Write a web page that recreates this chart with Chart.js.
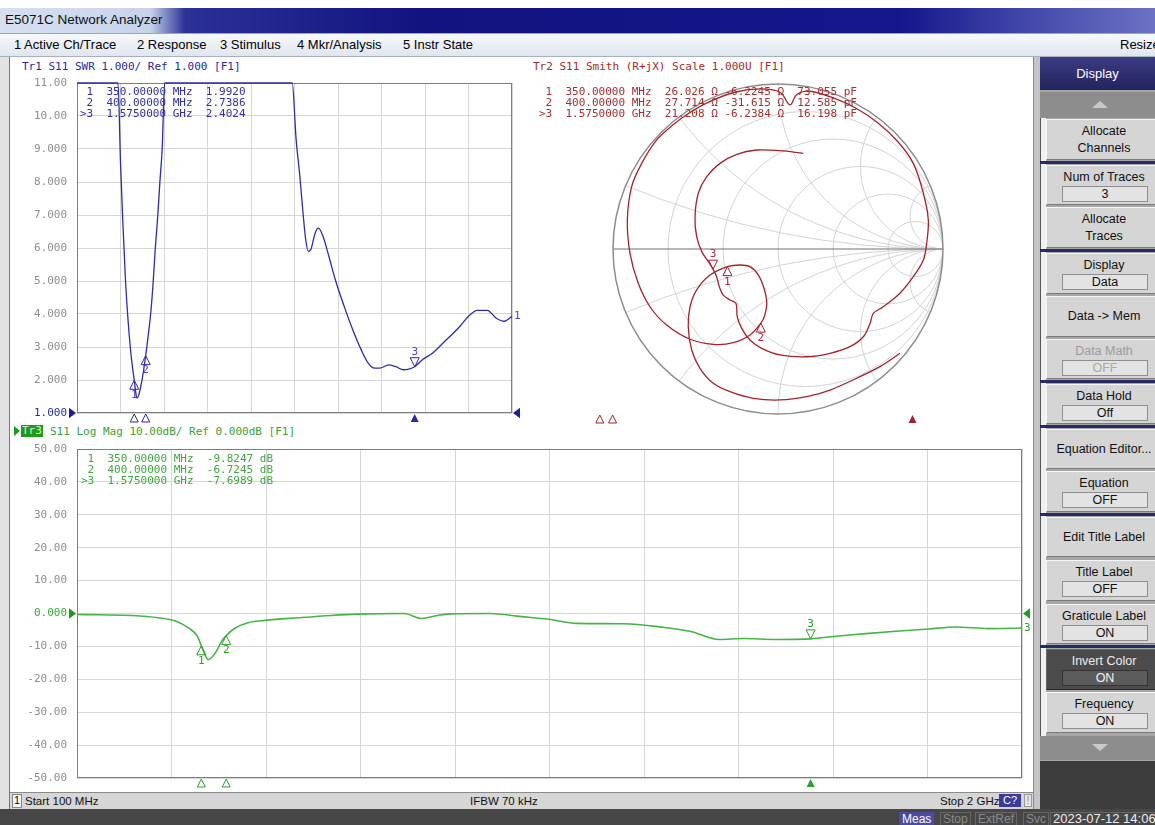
<!DOCTYPE html>
<html>
<head>
<meta charset="utf-8">
<title>E5071C Network Analyzer</title>
<script src="https://cdn.jsdelivr.net/npm/chart.js@4.4.1/dist/chart.umd.min.js"></script>
<style>
  html, body { margin: 0; padding: 0; }
  body { width: 1155px; height: 825px; overflow: hidden; position: relative; background: #fff; font-family: "Liberation Sans", Arial, sans-serif; }
  .a { position: absolute; white-space: nowrap; }
  .mono { position: absolute; font-family: "DejaVu Sans Mono", monospace; font-size: 11px; line-height: 11px; white-space: pre; }
  canvas { position: absolute; }
  .key { position: absolute; left: 1046px; width: 115px; background: #d5d5d5; border-top: 1px solid #f6f6f6; border-left: 1px solid #f6f6f6; border-bottom: 1px solid #7a7a7a; box-sizing: border-box; text-align: center; font-size: 12.5px; color: #111; }
  .key .val { position: absolute; left: 15px; width: 86px; height: 16px; background: #e3e3e3; border: 1px solid #8e8e8e; box-sizing: border-box; line-height: 14px; }
  .stat { position: absolute; font-size: 11.5px; color: #111; top: 795px; }
  .sbox { position: absolute; top: 812px; height: 12px; border: 1px solid #666; font-size: 12px; line-height: 12px; padding: 0 2px; color: #8a8a8a; }
</style>
</head>
<body>
<!-- window title and menu -->
<div class="a" style="left:0;top:8px;width:1155px;height:25px;background:linear-gradient(to right,#d6e0f0 0,#c8d3ea 150px,#2c3196 185px,#12137f 420px,#14168a 900px,#3d42a6 1010px,#6d72c4 1155px);"></div>
<div class="a" style="left:5px;top:12px;font-size:13.5px;color:#111;">E5071C Network Analyzer</div>
<div class="a" style="left:0;top:33px;width:1155px;height:22px;background:linear-gradient(#f7f9fc,#e0e6ef);border-top:1px solid #9aa6bd;border-bottom:1px solid #a9b1c0;"></div>
<div class="a" style="left:14px;top:37px;font-size:13px;">1 Active Ch/Trace</div>
<div class="a" style="left:137px;top:37px;font-size:13px;">2 Response</div>
<div class="a" style="left:220px;top:37px;font-size:13px;">3 Stimulus</div>
<div class="a" style="left:297px;top:37px;font-size:13px;">4 Mkr/Analysis</div>
<div class="a" style="left:403px;top:37px;font-size:13px;">5 Instr State</div>
<div class="a" style="left:1120px;top:37px;font-size:13px;">Resize</div>

<!-- display frame -->
<div class="a" style="left:0;top:57px;width:9px;height:752px;background:#e2e2e2;border-right:1px solid #777;"></div>
<div class="a" style="left:1033px;top:57px;width:6px;height:752px;background:#c4c4c4;border-left:1px solid #888;border-right:1px solid #555;"></div>

<canvas id="swr" width="530" height="350" style="left:0;top:74px;"></canvas>
<canvas id="smith" width="500" height="355" style="left:530px;top:74px;"></canvas>
<canvas id="lm" width="1032" height="350" style="left:0;top:440px;"></canvas>

<!-- trace titles and marker readouts (on top of the graticules) -->
<div class="mono" style="left:22px;top:61px;color:#2a2a9c;">Tr1 S11 SWR 1.000/ Ref 1.000 [F1]</div>
<div class="mono" style="left:533px;top:61px;color:#a42a2a;">Tr2 S11 Smith (R+jX) Scale 1.000U [F1]</div>
<div class="a" style="left:14px;top:426px;width:0;height:0;border-top:5px solid transparent;border-bottom:5px solid transparent;border-left:6px solid #1a9a1a;"></div>
<div class="mono" style="left:21px;top:425px;height:12px;padding:0 1px;background:#1f9a1f;color:#c8f5c8;line-height:12px;">Tr3</div>
<div class="mono" style="left:50px;top:426px;color:#3a9f3a;">S11 Log Mag 10.00dB/ Ref 0.000dB [F1]</div>
<div class="mono" id="swrRead" style="left:80px;top:86px;color:#3030a4;"></div>
<div class="mono" id="smithRead" style="left:539px;top:86px;color:#a43030;"></div>
<div class="mono" id="lmRead" style="left:81px;top:453px;color:#40a840;"></div>

<!-- status line -->
<div class="a" style="left:10px;top:792px;width:1023px;height:16px;background:#d6d6d6;border-top:1px solid #8a8a8a;"></div>
<div class="a" style="left:12px;top:794px;width:8px;height:12px;background:#f2f2f2;border:1px solid #888;font-size:10px;line-height:12px;text-align:center;">1</div>
<div class="stat" style="left:25px;">Start 100 MHz</div>
<div class="stat" style="left:470px;">IFBW 70 kHz</div>
<div class="stat" style="left:940px;">Stop 2 GHz</div>
<div class="a" style="left:999px;top:794px;width:22px;height:13px;background:#3b3b9c;color:#fff;font-size:11px;line-height:13px;text-align:center;">C?</div>
<div class="a" style="left:1024px;top:794px;width:8px;height:13px;background:#e4e4e4;border:1px solid #999;box-sizing:border-box;color:#999;font-size:11px;line-height:11px;text-align:center;">!</div>
<div class="a" style="left:0;top:809px;width:1155px;height:16px;background:#474747;"></div>
<div class="sbox" style="left:899px;background:#4b4ba0;color:#fff;border-color:#4b4ba0;">Meas</div>
<div class="sbox" style="left:940px;">Stop</div>
<div class="sbox" style="left:975px;">ExtRef</div>
<div class="sbox" style="left:1023px;">Svc</div>
<div class="sbox" style="left:1050px;width:104px;color:#eee;font-size:13px;">2023-07-12 14:06</div>

<!-- softkey panel -->
<div class="a" style="left:1040px;top:57px;width:115px;height:752px;background:#a6a6a6;"></div>
<div class="a" style="left:1040px;top:57px;width:115px;height:33px;background:linear-gradient(#3b3b82,#23235e);color:#fff;font-size:13px;line-height:33px;text-align:center;">Display</div>
<div class="a" style="left:1040px;top:92px;width:115px;height:26px;background:#8d8d8d;"></div>
<div class="a" style="left:1092px;top:101px;width:0;height:0;border-left:8px solid transparent;border-right:8px solid transparent;border-bottom:7px solid #c9c9c9;"></div>
<div class="a" style="left:1040px;top:118px;width:5px;height:618px;background:#f0f0f0;border-left:1px solid #555;"></div>
<div id="seps"></div>
<div id="keys"></div>
<div class="a" style="left:1040px;top:736px;width:115px;height:24px;background:#8d8d8d;"></div>
<div class="a" style="left:1092px;top:744px;width:0;height:0;border-left:8px solid transparent;border-right:8px solid transparent;border-top:7px solid #c9c9c9;"></div>
<div class="a" style="left:1040px;top:761px;width:115px;height:48px;background:#3c3c3c;"></div>

<script>
const freqGrid = [100, 290, 480, 670, 860, 1050, 1240, 1430, 1620, 1810, 2000]; // MHz, 10 divisions
const swrTicks = [1, 2, 3, 4, 5, 6, 7, 8, 9, 10, 11];
const lmTicks = [-50, -40, -30, -20, -10, 0, 10, 20, 30, 40, 50];

// Tr1 SWR (values above 11 run off the top of the graticule)
const swrFreq = [100, 160, 220, 260, 279, 290, 300, 312, 322, 334, 343, 350, 356, 362, 370, 380, 390, 400, 412, 423,
  433, 441, 453, 462, 472, 483, 520, 700, 900, 1000, 1040, 1057, 1073, 1088, 1099, 1110, 1121, 1140, 1155, 1177,
  1200, 1230, 1267, 1304, 1341, 1371, 1400, 1422, 1461, 1490, 1527, 1549, 1575, 1610, 1654, 1699, 1773, 1810, 1848,
  1892, 1930, 1967, 2000];
const swrVal = [71, 58, 30, 16, 11.0, 8.6, 6.8, 5.0, 3.9, 2.9, 2.35, 1.992, 1.65, 1.45, 1.55, 1.85, 2.25, 2.7386, 3.4, 4.1,
  5.0, 5.9, 7.0, 8.0, 9.0, 11.0, 16, 40, 60, 27, 11.0, 9.3, 8.2, 7.0, 6.25, 5.9, 5.95, 6.45, 6.6, 6.3,
  5.75, 5.0, 4.23, 3.53, 2.92, 2.52, 2.36, 2.36, 2.46, 2.41, 2.31, 2.33, 2.4024, 2.62, 2.82, 3.12, 3.63, 3.93, 4.11,
  4.11, 3.88, 3.78, 3.93];

// Tr3 log magnitude, dB
const lmFreq = [100, 144, 211, 264, 298, 324, 342, 350, 364, 378, 391, 400, 418, 444, 478, 545, 611, 665, 758, 792,
  825, 852, 932, 985, 1052, 1105, 1199, 1279, 1332, 1392, 1439, 1506, 1575, 1626, 1680, 1746, 1813, 1866, 1933, 2000];
const lmVal = [-0.3, -0.4, -0.6, -1.3, -2.3, -4.4, -6.9, -9.8247, -14.0, -12.0, -8.4, -6.7245, -4.4, -2.8, -2.1, -1.3, -0.6, -0.2, 0.0, -1.5,
  -0.6, -0.1, 0.0, -0.8, -1.8, -3.0, -3.1, -4.2, -5.4, -7.9, -7.6, -7.9, -7.6989, -6.9, -6.2, -5.4, -4.7, -4.1, -4.6, -4.4];

// Tr2 Smith trace, reflection coefficient (real, imag) in sweep order
const smithRe = [0.739, 0.618, 0.517, 0.315, 0.174, 0.012, -0.150, -0.291, -0.392, -0.473, -0.523, -0.544, -0.533, -0.493,
  -0.412, -0.307, -0.230, -0.170, -0.119, -0.085, -0.068, -0.083, -0.104, -0.170, -0.271, -0.392, -0.533, -0.675,
  -0.776, -0.847, -0.897, -0.913, -0.887, -0.826, -0.735, -0.630, -0.541, -0.417, -0.262, -0.108, 0.012, 0.073,
  0.113, 0.189, 0.332, 0.473, 0.606, 0.727, 0.820, 0.881, 0.911, 0.901, 0.881, 0.820, 0.739, 0.638, 0.578, 0.558,
  0.517, 0.436, 0.315, 0.174, 0.012, -0.099, -0.170, -0.220, -0.247, -0.255, -0.291, -0.332, -0.356, -0.372,
  -0.394, -0.422, -0.462, -0.493, -0.503, -0.483, -0.432, -0.352, -0.250, -0.129, 0.012, 0.153];
const smithIm = [-0.632, -0.713, -0.764, -0.855, -0.895, -0.915, -0.905, -0.865, -0.814, -0.723, -0.612, -0.471, -0.350, -0.248,
  -0.158, -0.107, -0.097, -0.107, -0.158, -0.238, -0.329, -0.410, -0.449, -0.521, -0.568, -0.578, -0.547, -0.461,
  -0.350, -0.208, -0.026, 0.176, 0.378, 0.519, 0.661, 0.757, 0.823, 0.892, 0.950, 0.970, 0.950, 0.873,
  0.935, 0.956, 0.917, 0.853, 0.764, 0.650, 0.519, 0.338, 0.176, 0.035, -0.067, -0.168, -0.268, -0.350, -0.390, -0.450,
  -0.532, -0.592, -0.632, -0.653, -0.642, -0.602, -0.552, -0.481, -0.410, -0.329, -0.309, -0.279, -0.228, -0.168,
  -0.122, -0.077, -0.016, 0.075, 0.196, 0.338, 0.438, 0.519, 0.574, 0.600, 0.596, 0.580];
const smithRGrid = [0.2, 0.5, 1, 2, 5];
const smithXGrid = [0.2, 0.5, 1, 2, 5];

// markers (from the readouts)
const mkFreq = [350, 400, 1575];
const mkSwr = [1.992, 2.7386, 2.4024];
const mkLm = [-9.8247, -6.7245, -7.6989];
const mkR = [26.026, 27.714, 21.208];
const mkX = [-6.2245, -31.615, -6.2384];
const mkCap = [73.055, 12.585, 16.198];
const activeMk = 2;
const Z0 = 50;

// ---- readouts ----
const fmtFreq = f => f < 1000 ? f.toFixed(5) + ' MHz' : (f / 1000).toFixed(7) + ' GHz';
const tag = i => (i === activeMk ? '>' : ' ') + (i + 1);
document.getElementById('swrRead').textContent =
  mkFreq.map((f, i) => `${tag(i)}  ${fmtFreq(f)}  ${mkSwr[i].toPrecision(5)}`).join('\n');
document.getElementById('smithRead').textContent =
  mkFreq.map((f, i) => `${tag(i)}  ${fmtFreq(f)}  ${mkR[i].toPrecision(5)} Ω ${mkX[i].toPrecision(5)} Ω  ${mkCap[i].toPrecision(5)} pF`).join('\n');
document.getElementById('lmRead').textContent =
  mkFreq.map((f, i) => `${tag(i)}  ${fmtFreq(f)}  ${mkLm[i].toPrecision(5)} dB`).join('\n');

// ---- softkeys ----
const keys = [
  [119, 41, ['Allocate', 'Channels']], [165, 40, ['Num of Traces'], '3'], [207, 41, ['Allocate', 'Traces']],
  [253, 41, ['Display'], 'Data'], [296, 41, ['Data -> Mem']], [339, 40, ['Data Math'], 'OFF', 'dim'],
  [384, 40, ['Data Hold'], 'Off'], [429, 40, ['Equation Editor...']], [471, 41, ['Equation'], 'OFF'],
  [517, 40, ['Edit Title Label']], [560, 41, ['Title Label'], 'OFF'], [604, 40, ['Graticule Label'], 'ON'],
  [649, 41, ['Invert Color'], 'ON', 'dark'], [692, 41, ['Frequency'], 'ON']
];
const seps = [161, 249, 380, 425, 513, 645];
document.getElementById('seps').innerHTML = seps.map(t =>
  `<div class="a" style="left:1040px;top:${t}px;width:115px;height:3px;background:#2a2a62;"></div>`).join('');
document.getElementById('keys').innerHTML = keys.map(([t, h, lines, val, kind]) => {
  let st = `top:${t}px;height:${h}px;`;
  let vst = '';
  if (kind === 'dim') { st += 'color:#9c9c9c;'; vst = 'color:#a8a8a8;'; }
  if (kind === 'dark') { st += 'background:#4b4b4b;color:#ececec;border-top-color:#6a6a6a;border-left-color:#6a6a6a;border-bottom-color:#2a2a2a;'; vst = 'background:#5c5c5c;border-color:#333;color:#f2f2f2;'; }
  let inner;
  if (val !== undefined) inner = `<div style="line-height:16px;padding-top:3px;">${lines[0]}</div><div class="val" style="top:20px;${vst}">${val}</div>`;
  else if (lines.length === 2) inner = `<div style="line-height:17px;padding-top:3px;">${lines[0]}<br>${lines[1]}</div>`;
  else inner = `<div style="line-height:${h - 2}px;">${lines[0]}</div>`;
  return `<div class="key" style="${st}">${inner}</div>`;
}).join('');

// ---- drawing helpers ----
function tri(ctx, x, y, dir, fill, s) {
  ctx.beginPath();
  if (dir === 'up') { ctx.moveTo(x, y); ctx.lineTo(x - s / 2, y + s); ctx.lineTo(x + s / 2, y + s); }
  else if (dir === 'down') { ctx.moveTo(x, y); ctx.lineTo(x - s / 2, y - s); ctx.lineTo(x + s / 2, y - s); }
  else if (dir === 'right') { ctx.moveTo(x, y); ctx.lineTo(x - s, y - s * 0.75); ctx.lineTo(x - s, y + s * 0.75); }
  else { ctx.moveTo(x, y); ctx.lineTo(x + s, y - s * 0.75); ctx.lineTo(x + s, y + s * 0.75); }
  ctx.closePath();
  if (fill) ctx.fill(); else ctx.stroke();
}

function drawSmithGrid(chart) {
  const ctx = chart.ctx, xs = chart.scales.x, ys = chart.scales.y;
  const cx = xs.getPixelForValue(0), cy = ys.getPixelForValue(0);
  const R = xs.getPixelForValue(1) - cx;
  ctx.save();
  ctx.beginPath(); ctx.arc(cx, cy, R, 0, 2 * Math.PI); ctx.clip();
  ctx.strokeStyle = '#d3d3d3'; ctx.lineWidth = 1;
  smithRGrid.forEach(r => {
    ctx.beginPath(); ctx.arc(xs.getPixelForValue(r / (1 + r)), cy, R / (1 + r), 0, 2 * Math.PI); ctx.stroke();
  });
  smithXGrid.forEach(x => [x, -x].forEach(v => {
    ctx.beginPath(); ctx.arc(xs.getPixelForValue(1), ys.getPixelForValue(1 / v), R / Math.abs(v), 0, 2 * Math.PI); ctx.stroke();
  }));
  ctx.restore();
  ctx.save();
  ctx.strokeStyle = '#707070'; ctx.lineWidth = 1;
  ctx.beginPath(); ctx.moveTo(cx - R, cy); ctx.lineTo(cx + R, cy); ctx.stroke();
  ctx.strokeStyle = '#8c8c8c'; ctx.lineWidth = 1.5;
  ctx.beginPath(); ctx.arc(cx, cy, R, 0, 2 * Math.PI); ctx.stroke();
  ctx.restore();
}

function vna(cfg) {
  return {
    id: 'vna',
    beforeDatasetsDraw(chart) {
      const ctx = chart.ctx, a = chart.chartArea;
      if (cfg.smith) { drawSmithGrid(chart); return; }
      ctx.save();
      ctx.strokeStyle = '#7d7d7d'; ctx.lineWidth = 1;
      ctx.strokeRect(a.left + 0.5, a.top + 0.5, a.width - 1, a.height - 1);
      ctx.restore();
    },
    afterDatasetsDraw(chart) {
      const ctx = chart.ctx, a = chart.chartArea;
      ctx.save();
      ctx.lineWidth = 1;
      ctx.font = '11px "DejaVu Sans Mono"';
      ctx.textAlign = 'center'; ctx.textBaseline = 'middle';
      cfg.points(chart).forEach((p, i) => {
        const act = i === activeMk;
        ctx.strokeStyle = cfg.color;
        tri(ctx, p.x, p.y, act ? 'down' : 'up', false, 9);
        ctx.fillStyle = cfg.label;
        ctx.fillText(String(i + 1), p.x, act ? p.y - 15 : p.y + 15);
        ctx.fillStyle = cfg.color;
        tri(ctx, cfg.stimX(chart, mkFreq[i]), a.bottom + cfg.stimDy, 'up', act, 8);
      });
      if (cfg.ref !== undefined) {
        const y = chart.scales.y.getPixelForValue(cfg.ref);
        ctx.fillStyle = cfg.refColor;
        tri(ctx, a.left - 1, y, 'right', true, 7);
        tri(ctx, a.right + 1, y, 'left', true, 7);
      }
      if (cfg.traceNo) {
        const ds = chart.data.datasets[0].data;
        const last = ds[ds.length - 1];
        ctx.fillStyle = cfg.label; ctx.textAlign = 'left';
        ctx.fillText(cfg.traceNo, a.right + 2, chart.scales.y.getPixelForValue(last.y));
      }
      ctx.restore();
    }
  };
}

const tickFmt = v => Math.abs(v) >= 10 ? v.toFixed(2) : v.toFixed(3);
const base = {
  responsive: false, animation: false, events: [],
  plugins: { legend: { display: false }, tooltip: { enabled: false } }
};
function rectScales(ymin, ymax, yt, refVal, refColor) {
  return {
    x: {
      type: 'linear', min: 100, max: 2000,
      afterBuildTicks: s => { s.ticks = freqGrid.map(v => ({ value: v })); },
      ticks: { display: false },
      grid: { color: '#d6d6d6', drawTicks: false, lineWidth: 1 },
      border: { display: false }
    },
    y: {
      min: ymin, max: ymax,
      afterBuildTicks: s => { s.ticks = yt.map(v => ({ value: v })); },
      // fixed label column; keep the graticule edges where the layout padding puts them
      afterFit: s => { s.width = 77; s.paddingTop = 0; s.paddingBottom = 0; },
      ticks: {
        padding: 10, font: { family: 'DejaVu Sans Mono', size: 11 },
        color: c => c.tick && c.tick.value === refVal ? refColor : '#8e8e8e',
        callback: v => tickFmt(v)
      },
      grid: { color: '#d6d6d6', drawTicks: false, lineWidth: 1 },
      border: { display: false }
    }
  };
}

// ---- Tr1 SWR ----
new Chart(document.getElementById('swr'), {
  type: 'line',
  data: { datasets: [{
    data: swrFreq.map((f, i) => ({ x: f, y: Math.min(swrVal[i], 11) })),
    borderColor: '#2c2cb0', borderWidth: 1.3, pointRadius: 0, cubicInterpolationMode: 'monotone', clip: 2
  }] },
  options: Object.assign({}, base, {
    layout: { padding: { top: 9, right: 18, bottom: 11, left: 0 } },
    scales: rectScales(1, 11, swrTicks, 1, '#2a2aa6')
  }),
  plugins: [vna({
    color: '#2a2aa6', label: '#5a3cc0', refColor: '#1e1e9a', ref: 1, traceNo: '1', stimDy: 1,
    points: c => mkFreq.map((f, i) => ({ x: c.scales.x.getPixelForValue(f), y: c.scales.y.getPixelForValue(mkSwr[i]) })),
    stimX: (c, f) => c.scales.x.getPixelForValue(f)
  })]
});

// ---- Tr2 Smith ----
const gamma = (r, x) => {
  const zr = r / Z0, zx = x / Z0;
  const nr = zr - 1, dr = zr + 1, d = dr * dr + zx * zx;
  return { re: (nr * dr + zx * zx) / d, im: (zx * dr - nr * zx) / d };
};
new Chart(document.getElementById('smith'), {
  type: 'scatter',
  data: { datasets: [{
    data: smithRe.map((u, i) => ({ x: u, y: smithIm[i] })),
    showLine: true, borderColor: '#a6222a', borderWidth: 1.3, pointRadius: 0, tension: 0.35, clip: false
  }] },
  options: Object.assign({}, base, {
    layout: { padding: { top: 10, right: 87, bottom: 15, left: 83 } },
    scales: { x: { min: -1, max: 1, display: false }, y: { min: -1, max: 1, display: false } }
  }),
  plugins: [vna({
    smith: true, color: '#a6222a', label: '#b02a4a', stimDy: 1,
    points: c => mkFreq.map((f, i) => {
      const g = gamma(mkR[i], mkX[i]);
      return { x: c.scales.x.getPixelForValue(g.re), y: c.scales.y.getPixelForValue(g.im) };
    }),
    stimX: (c, f) => c.chartArea.left - 77 + (f - 100) / 1900 * 485
  })]
});

// ---- Tr3 Log Mag ----
new Chart(document.getElementById('lm'), {
  type: 'line',
  data: { datasets: [{
    data: lmFreq.map((f, i) => ({ x: f, y: lmVal[i] })),
    borderColor: '#45b545', borderWidth: 1.6, pointRadius: 0, cubicInterpolationMode: 'monotone'
  }] },
  options: Object.assign({}, base, {
    layout: { padding: { top: 9, right: 10, bottom: 12, left: 0 } },
    scales: rectScales(-50, 50, lmTicks, 0, '#3aa83a')
  }),
  plugins: [vna({
    color: '#2ea02e', label: '#2ea02e', refColor: '#1f9a1f', ref: 0, traceNo: '3', stimDy: 1,
    points: c => mkFreq.map((f, i) => ({ x: c.scales.x.getPixelForValue(f), y: c.scales.y.getPixelForValue(mkLm[i]) })),
    stimX: (c, f) => c.scales.x.getPixelForValue(f)
  })]
});
</script>
</body>
</html>
